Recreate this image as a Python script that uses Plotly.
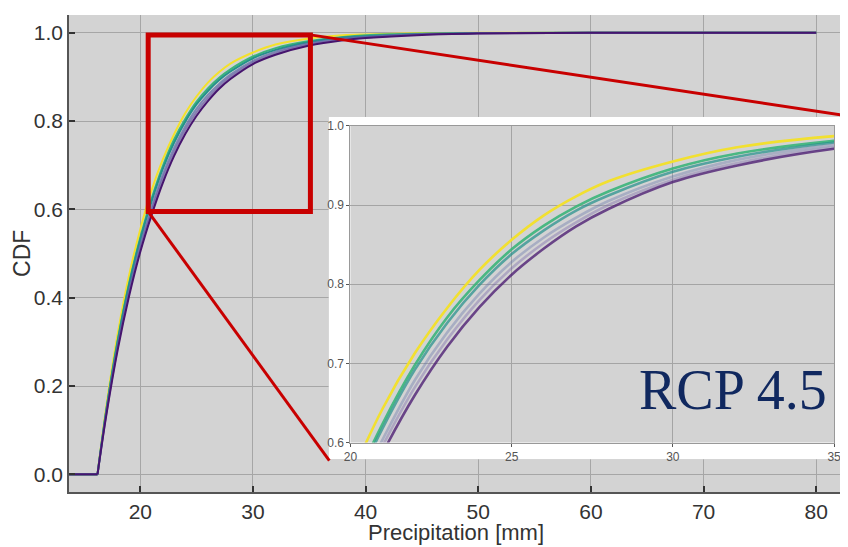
import plotly.graph_objects as go

# ---------------- data ----------------
x_left = 13.5          # flat part of every CDF starts off-axis
x_kink = 16.2          # precipitation where the CDFs leave zero

precip = [16.2, 17, 18, 19, 20, 21, 22, 23, 24, 25, 26, 27, 28, 30, 32, 35, 38, 40, 45, 50, 60, 80]

cdf_yellow = [0, .157, .319, .450, .555, .643, .713, .770, .818, .856, .887, .911, .930, .955, .973, .987, .994, .996, .999, 1, 1, 1]
cdf_green  = [0, .149, .305, .432, .536, .624, .698, .758, .805, .844, .874, .898, .917, .946, .965, .981, .990, .994, .998, .999, 1, 1]
cdf_teal   = [0, .148, .302, .429, .532, .618, .692, .751, .799, .838, .868, .893, .912, .942, .961, .979, .989, .992, .997, .999, 1, 1]
cdf_blue   = [0, .143, .293, .417, .520, .604, .679, .739, .788, .828, .859, .884, .905, .936, .957, .976, .987, .991, .997, .999, 1, 1]
cdf_lav    = [0, .140, .288, .411, .512, .596, .670, .730, .780, .820, .852, .878, .900, .932, .953, .973, .984, .989, .996, .998, 1, 1]
cdf_purple = [0, .137, .283, .403, .504, .587, .660, .721, .771, .812, .845, .873, .895, .929, .950, .971, .983, .988, .995, .998, 1, 1]

curve_names = ["yellow", "green", "teal", "blue", "lavender", "purple"]
curve_values = [cdf_yellow, cdf_green, cdf_teal, cdf_blue, cdf_lav, cdf_purple]

main_xticks = [20, 30, 40, 50, 60, 70, 80]
main_yticks = [0.0, 0.2, 0.4, 0.6, 0.8, 1.0]
inset_xticks = [20, 25, 30, 35]
inset_yticks = [0.6, 0.7, 0.8, 0.9, 1.0]

zoom_box = dict(x0=20.7, x1=35.1, y0=0.595, y1=0.995)
label_text = "RCP 4.5"

# ---------------- styles ----------------
colors = ["#f4e12a", "#3cb57a", "#23918b", "#5a6aa8", "#6a58a4", "#46146e"]
main_opac = [1, 1, 1, 0.7, 0.7, 1]
inset_opac = [0.95, 0.9, 0.7, 0.35, 0.35, 0.75]
RED = "#c80000"
BG = "#d3d3d3"
GRID = "#a6a6a6"
FONT = "Liberation Sans"

fig = go.Figure()

# main curves
for name, vals, c, op in zip(curve_names, curve_values, colors, main_opac):
    fig.add_trace(go.Scatter(x=[x_left, x_kink], y=[0, 0], mode="lines",
                             line=dict(color=c, width=2), opacity=op,
                             showlegend=False, hoverinfo="skip"))
    fig.add_trace(go.Scatter(x=precip, y=vals, mode="lines", name=name,
                             line=dict(color=c, width=2, shape="spline", smoothing=1),
                             opacity=op, showlegend=False))

# white frame subplot behind the inset
fig.add_trace(go.Scatter(x=[None], y=[None], xaxis="x2", yaxis="y2",
                         showlegend=False, hoverinfo="skip"))

# inset curves
for name, vals, c, op in zip(curve_names, curve_values, colors, inset_opac):
    fig.add_trace(go.Scatter(x=precip, y=vals, mode="lines", name=name,
                             xaxis="x3", yaxis="y3",
                             line=dict(color=c, width=2.6, shape="spline", smoothing=1),
                             opacity=op, showlegend=False))

# page has an 8px body margin; the figure sits at (8, 8) in the window
OFF = 8
W, H = 848 - OFF, 547 - OFF
PL, PR, PT, PB = 69, 848, 10, 492          # plot area in window pixels
pw, ph = PR - PL, PB - PT

def px_x(p):
    return (p - PL) / pw

def px_y(p):
    return (PB - p) / ph

fig.update_layout(
    width=W, height=H, autosize=False,
    margin=dict(l=PL - OFF, r=W - (PR - OFF), t=PT - OFF, b=H - (PB - OFF), pad=0),
    paper_bgcolor="white", plot_bgcolor=BG,
    font=dict(family=FONT, color="#333"),
    xaxis=dict(range=[13.67, 82.2], tickvals=main_xticks, ticks="inside", ticklen=6,
               tickwidth=2, tickcolor="#333", showline=True, linecolor="#555", linewidth=1.5,
               showgrid=True, gridcolor=GRID, gridwidth=1.2, zeroline=False,
               tickfont=dict(size=21, color="#333"), domain=[0, 1]),
    yaxis=dict(range=[-0.04, 1.04], tickvals=main_yticks, tickformat=".1f", ticks="inside",
               ticklen=6, tickwidth=2, tickcolor="#333", showline=True, linecolor="#555",
               linewidth=1.5, showgrid=True, gridcolor=GRID, gridwidth=1.2, zeroline=False,
               tickfont=dict(size=21, color="#333"), domain=[0, 1]),
    xaxis2=dict(domain=[px_x(331), 1.0], range=[0, 1], visible=False, anchor="y2"),
    yaxis2=dict(domain=[px_y(459), px_y(113)], range=[0, 1], visible=False, anchor="x2"),
    xaxis3=dict(domain=[px_x(353), px_x(841)], range=[20, 35], anchor="y3",
                tickvals=inset_xticks, ticks="outside", ticklen=3, tickcolor="#555",
                showline=True, mirror=True, linecolor="#999", linewidth=1,
                showgrid=True, gridcolor=GRID, zeroline=False,
                tickfont=dict(size=12, color="#555")),
    yaxis3=dict(domain=[px_y(442), px_y(122)], range=[0.6, 1.0], anchor="x3",
                tickvals=inset_yticks, tickformat=".1f", ticks="outside", ticklen=3,
                tickcolor="#555", showline=True, mirror=True, linecolor="#999", linewidth=1,
                showgrid=True, gridcolor=GRID, zeroline=False,
                tickfont=dict(size=12, color="#555")),
    shapes=[
        # white panel behind inset
        dict(type="rect", xref="x2", yref="y2", x0=0, x1=1, y0=0, y1=1,
             fillcolor="white", line=dict(width=0), layer="below"),
        # zoom rectangle
        dict(type="rect", xref="x", yref="y", layer="above",
             x0=zoom_box["x0"], x1=zoom_box["x1"], y0=zoom_box["y0"], y1=zoom_box["y1"],
             line=dict(color=RED, width=5)),
        # connectors
        dict(type="line", xref="x", yref="y", layer="above",
             x0=zoom_box["x0"], y0=zoom_box["y0"], x1=36.78, y1=0.031,
             line=dict(color=RED, width=3)),
        dict(type="line", xref="x", yref="y", layer="above",
             x0=zoom_box["x1"], y0=zoom_box["y1"], x1=82.2, y1=0.814,
             line=dict(color=RED, width=3)),
    ],
    annotations=[
        dict(text="CDF", xref="paper", yref="paper", x=px_x(21), y=px_y(251), textangle=-90,
             showarrow=False, xanchor="center", yanchor="middle",
             font=dict(size=23, color="#333", family=FONT)),
        dict(text="Precipitation [mm]", xref="paper", yref="paper", x=px_x(460), y=px_y(532.5),
             showarrow=False, xanchor="center", yanchor="middle", borderpad=0,
             font=dict(size=22, color="#333", family=FONT)),
        dict(text=label_text, xref="paper", yref="paper", x=px_x(836), y=px_y(388.5),
             showarrow=False, xanchor="right", yanchor="middle",
             font=dict(size=56, color="#10285f", family="Liberation Serif")),
    ],
)

fig.write_html("out.html")
